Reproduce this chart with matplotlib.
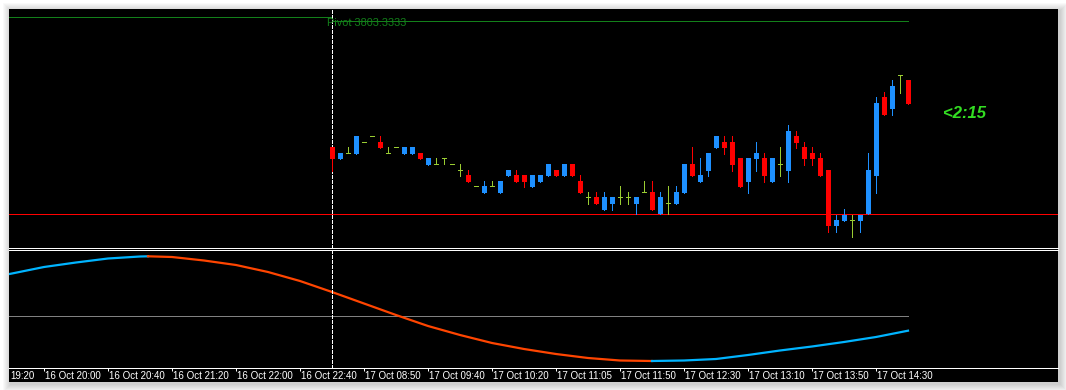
import matplotlib
matplotlib.use('Agg')
import matplotlib.pyplot as plt
from matplotlib.patches import Rectangle
from matplotlib.lines import Line2D

W, H = 1066, 390

# 5 minute candles of 17 Oct (bar index 40 .. 112)
first_bar = 40
opens = [3677, 3665, 3671, 3670, 3682, 3688, 3682, 3671, 3677, 3670,
         3670, 3671, 3659, 3660, 3666, 3660, 3654, 3649, 3638, 3631,
         3638, 3631, 3648, 3649, 3649, 3637, 3642, 3648, 3654, 3648,
         3660, 3643, 3627, 3627, 3614, 3620, 3627, 3627, 3620, 3632,
         3632, 3610, 3621, 3620, 3631, 3660, 3642, 3653, 3676, 3682,
         3682, 3666, 3642, 3665, 3666, 3642, 3660, 3653, 3688, 3677,
         3671, 3666, 3654, 3598, 3603, 3604, 3603, 3610, 3648, 3727,
         3715, 3749, 3744]
highs = [3677, 3671, 3677, 3688, 3682, 3688, 3688, 3677, 3677, 3677,
         3677, 3671, 3666, 3666, 3666, 3660, 3660, 3654, 3638, 3643,
         3643, 3643, 3654, 3654, 3649, 3649, 3649, 3660, 3654, 3660,
         3660, 3649, 3632, 3632, 3632, 3627, 3638, 3632, 3627, 3643,
         3643, 3632, 3638, 3638, 3660, 3677, 3666, 3671, 3688, 3688,
         3688, 3666, 3666, 3682, 3671, 3666, 3677, 3699, 3693, 3682,
         3677, 3671, 3654, 3609, 3615, 3609, 3609, 3671, 3727, 3732,
         3744, 3749, 3744]
lows = [3653, 3665, 3671, 3670, 3682, 3688, 3676, 3671, 3677, 3670,
        3670, 3665, 3659, 3660, 3660, 3660, 3648, 3642, 3638, 3631,
        3638, 3631, 3648, 3642, 3637, 3637, 3642, 3648, 3648, 3648,
        3648, 3631, 3620, 3620, 3614, 3614, 3620, 3620, 3610, 3632,
        3614, 3610, 3610, 3620, 3631, 3648, 3642, 3648, 3676, 3670,
        3653, 3637, 3631, 3653, 3642, 3642, 3648, 3642, 3676, 3659,
        3659, 3648, 3592, 3592, 3603, 3587, 3592, 3610, 3631, 3709,
        3709, 3731, 3720]
closes = [3665, 3671, 3671, 3688, 3682, 3688, 3676, 3671, 3677, 3677,
          3677, 3665, 3666, 3660, 3666, 3660, 3654, 3642, 3638, 3638,
          3638, 3643, 3654, 3642, 3642, 3649, 3649, 3660, 3648, 3660,
          3648, 3631, 3627, 3620, 3627, 3627, 3627, 3627, 3627, 3632,
          3614, 3627, 3621, 3632, 3660, 3648, 3649, 3671, 3688, 3676,
          3659, 3637, 3666, 3671, 3648, 3666, 3660, 3693, 3681, 3665,
          3665, 3648, 3598, 3604, 3609, 3604, 3609, 3654, 3721, 3709,
          3738, 3749, 3720]

pivot = 3803.3333
prev_pivot = 3807
support = 3610
timer_text = '<2:15'

# oscillator in lower window
osc_idx = [-1, 0, 4, 8, 12, 16, 17, 20, 24, 28, 32, 36, 40, 44, 48, 52,
           56, 60, 64, 68, 72, 76, 80, 84, 88, 92, 96, 100, 104, 108, 112]
osc_val = [4.1, 4.25, 4.9, 5.35, 5.75, 5.95, 5.97, 5.9, 5.55, 5.1, 4.4, 3.5,
           2.4, 1.25, 0.1, -1.0, -1.9, -2.7, -3.3, -3.8, -4.2, -4.45, -4.5,
           -4.45, -4.3, -3.9, -3.45, -3.05, -2.6, -2.1, -1.47]

# first label is the tail of "16 Oct 19:20", cut by the window edge
time_idx = [-4, 4, 12, 20, 28, 36, 44, 52, 60, 68, 76, 84, 92, 100, 108]
time_labels = ['19:20', '16 Oct 20:00', '16 Oct 20:40', '16 Oct 21:20',
               '16 Oct 22:00', '16 Oct 22:40', '17 Oct 08:50', '17 Oct 09:40',
               '17 Oct 10:20', '17 Oct 11:05', '17 Oct 11:50', '17 Oct 12:30',
               '17 Oct 13:10', '17 Oct 13:50', '17 Oct 14:30']

bull = '#1e90ff'
bear = '#ff0000'
doji = '#9acd32'
green = '#13801a'
xlim = (-0.375, 130.75)
px = 0.72  # one pixel in points


def fx(p):
    return p / W


def fy(p):
    return 1 - p / H


fig = plt.figure(figsize=(W / 100, H / 100), dpi=100)
fig.patch.set_facecolor('white')

# window shadow + black background
for k in range(8, 0, -1):
    fig.add_artist(Rectangle((fx(9 - k + 2), fy(382 + k + 2)), (1049 + 2 * k) / W, (373 + 2 * k) / H,
                             transform=fig.transFigure, facecolor='black', alpha=0.025, lw=0, zorder=-3))
fig.add_artist(Rectangle((fx(9), fy(382)), 1049 / W, 373 / H, transform=fig.transFigure,
                         facecolor='black', lw=0, zorder=-1))

# main window
ax1 = fig.add_axes([fx(9), fy(248.3), 1049 / W, (248.3 - 9) / H])
ax1.set_facecolor('black')
ax1.axis('off')

ax1.hlines(prev_pivot, xlim[0], first_bar, color=green, lw=px, antialiased=False)
ax1.hlines(pivot, first_bar, first_bar + len(opens) - 1, color=green, lw=px, antialiased=False)
ax1.annotate('Pivot %.4f' % pivot, (first_bar - 0.6, pivot), xytext=(0, -2), textcoords='offset pixels',
             va='center', ha='left', color=green, fontsize=7.8, family='Liberation Sans')
ax1.axhline(support, color='#ff0000', lw=px, antialiased=False)

for k in range(len(opens)):
    i = first_bar + k
    o, h, l, c = opens[k], highs[k], lows[k], closes[k]
    if c > o:
        col = bull
    elif c < o:
        col = bear
    else:
        col = doji
    ax1.vlines(i, l, h, color=col, lw=px, antialiased=False, zorder=3)
    if c == o:
        ax1.hlines(o, i - 0.31, i + 0.31, color=col, lw=px, antialiased=False, zorder=3)
    else:
        ax1.bar(i, abs(c - o), 0.625, bottom=min(o, c), color=col, lw=0, antialiased=False, zorder=3)

ax1.text(116.4, 3711, timer_text, color='#33dd22', fontsize=12, fontweight='bold',
         fontstyle='italic', va='center', ha='left', family='Liberation Sans')
ax1.axvline(first_bar, color='white', lw=px, dashes=(3, 2), antialiased=False)
ax1.set_xlim(*xlim)
ax1.set_ylim(3575.7, 3815)

# oscillator window
ax2 = fig.add_axes([fx(9), fy(368), 1049 / W, (368 - 250.3) / H])
ax2.set_facecolor('black')
for s in ['top', 'left', 'right']:
    ax2.spines[s].set_visible(False)
ax2.spines['bottom'].set_color('white')
ax2.spines['bottom'].set_linewidth(px)
ax2.set_yticks([])
ax2.set_xticks(time_idx)
ax2.set_xticklabels([])
ax2.tick_params(axis='x', direction='out', length=2.3, width=px, color='white')

ax2.hlines(0, xlim[0], osc_idx[-1], color='#808080', lw=px, antialiased=False)

# colour runs: up = blue, down = orange
runs = []
for j in range(1, len(osc_idx)):
    col = '#00b4ff' if osc_val[j] >= osc_val[j - 1] else '#ff4500'
    if runs and runs[-1][0] == col:
        runs[-1][1].append(j)
    else:
        runs.append([col, [j - 1, j]])
for col, ids in runs:
    ax2.plot([osc_idx[j] for j in ids], [osc_val[j] for j in ids], color=col, lw=1.6)

ax2.axvline(first_bar, color='white', lw=px, dashes=(3, 2), antialiased=False)
ax2.set_xlim(*xlim)
ax2.set_ylim(-5.2, 6.57)

for t, lab in zip(time_idx, time_labels):
    ax2.annotate(lab, (max(t, xlim[0]), 0), xycoords=('data', 'axes fraction'), xytext=(1, -3),
                 textcoords='offset pixels', ha='left', va='top', color='white',
                 fontsize=7, family='Liberation Sans', annotation_clip=False)

# panel separator
for p in [248.3, 250.3]:
    fig.add_artist(Line2D([fx(9), fx(1058)], [fy(p), fy(p)], transform=fig.transFigure,
                          color='white', lw=px, antialiased=False))

fig.savefig('out.png', dpi=100, facecolor=fig.get_facecolor())
